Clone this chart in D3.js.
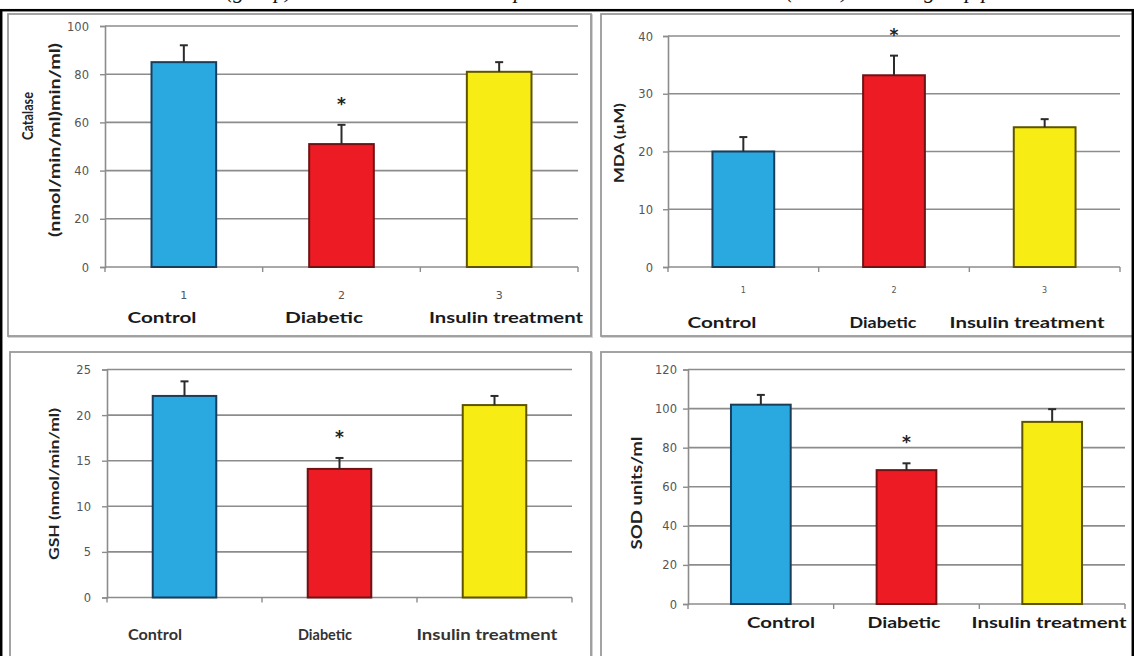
<!DOCTYPE html>
<html>
<head>
<meta charset="utf-8">
<script src="https://cdn.jsdelivr.net/npm/d3@7"></script>
<style>
  html, body { margin: 0; padding: 0; background: #fff; }
  svg { display: block; }
</style>
</head>
<body>
<svg id="fig" width="1134" height="656"></svg>
<script>
// Group names and their index numbers
const groups = ["Control", "Diabetic", "Insulin treatment"];
const groupNumbers = ["1", "2", "3"];
// Groups flagged as significantly different
const significant = [false, true, false];

// Catalase (nmol/min/ml)
const catalaseMean = [85, 51, 81];
const catalaseErr  = [7, 8, 4];
const catalaseTicks = [0, 20, 40, 60, 80, 100];

// MDA (µM)
const mdaMean = [20, 33.2, 24.2];
const mdaErr  = [2.5, 3.4, 1.4];
const mdaTicks = [0, 10, 20, 30, 40];

// GSH (nmol/min/ml)
const gshMean = [22.1, 14.1, 21.1];
const gshErr  = [1.6, 1.2, 1.0];
const gshTicks = [0, 5, 10, 15, 20, 25];

// SOD units/ml
const sodMean = [102, 68.5, 93.2];
const sodErr  = [5, 3.5, 6.5];
const sodTicks = [0, 20, 40, 60, 80, 100, 120];

const fills   = ["#29a9e0", "#ed1c24", "#f7ec13"];
const strokes = ["#1b3d5a", "#6e1214", "#5e5300"];
const labelFont = "Lato";

const svg = d3.select("#fig");
svg.append("rect").attr("width", 1134).attr("height", 656).attr("fill", "#fff");

// Caption line running off the top edge
const cap = svg.append("text")
  .attr("y", -2)
  .attr("font-family", "Liberation Serif")
  .attr("font-style", "italic")
  .attr("font-size", 22)
  .attr("fill", "#111");
cap.append("tspan").attr("x", 226).text("(group) were measured and");
cap.append("tspan").attr("x", 477).text("compared to the control");
cap.append("tspan").attr("x", 786).text("(n=10) in each/group p");

const panels = [
  {
    mean: catalaseMean, err: catalaseErr, ticks: catalaseTicks, max: 100,
    box: [8, 14, 591, 336],
    plot: { left: 105, right: 578, top: 26, bottom: 267 },
    tickX: 89, numbers: { y: 299, size: 11 },
    titles: [
      { text: "Catalase", x: 27, y: 116, w: 48, size: 16 },
      { text: "(nmol/min/ml)min/ml)", x: 55, y: 140, w: 194, size: 14.5 }
    ],
    labels: { y: 323, size: 16, weight: 700, color: "#1a1a1a",
              x: [162, 324, 506], w: [69, 78, 154] }
  },
  {
    mean: mdaMean, err: mdaErr, ticks: mdaTicks, max: 40,
    box: [601, 14, 1140, 336],
    plot: { left: 668, right: 1120, top: 36, bottom: 267 },
    tickX: 653, numbers: { y: 293, size: 8 },
    titles: [
      { text: "MDA (µM)", x: 619, y: 143, w: 80, size: 13.5 }
    ],
    labels: { y: 328, size: 16, weight: 700, color: "#1a1a1a",
              x: [722, 883, 1027], w: [69, 67, 155] }
  },
  {
    mean: gshMean, err: gshErr, ticks: gshTicks, max: 25,
    box: [10, 352, 591, 660],
    plot: { left: 107, right: 572, top: 369.5, bottom: 597.5 },
    tickX: 91, numbers: null,
    titles: [
      { text: "GSH (nmol/min/ml)", x: 55, y: 484, w: 152, size: 12.5 }
    ],
    labels: { y: 640, size: 14.5, weight: 700, color: "#333",
              x: [155, 325, 487], w: [54, 54, 141] }
  },
  {
    mean: sodMean, err: sodErr, ticks: sodTicks, max: 120,
    box: [601, 352, 1140, 660],
    plot: { left: 688, right: 1125, top: 369.5, bottom: 604 },
    tickX: 677, numbers: null,
    titles: [
      { text: "SOD units/ml", x: 637, y: 493, w: 113, size: 15.5 }
    ],
    labels: { y: 628, size: 16, weight: 700, color: "#1a1a1a",
              x: [781, 904, 1049], w: [68, 73, 155] }
  }
];

panels.forEach(p => {
  const g = svg.append("g");
  const [bx0, by0, bx1, by1] = p.box;

  // panel frame with a soft edge
  g.append("rect")
    .attr("x", bx0 + 1).attr("y", by0 + 1)
    .attr("width", bx1 - bx0).attr("height", by1 - by0)
    .attr("fill", "none").attr("stroke", "#d4d4d4").attr("stroke-width", 2);
  g.append("rect")
    .attr("x", bx0).attr("y", by0)
    .attr("width", bx1 - bx0).attr("height", by1 - by0)
    .attr("fill", "#fff").attr("stroke", "#9a9a9a").attr("stroke-width", 1.8);

  const x = d3.scaleBand().domain(groups)
    .range([p.plot.left, p.plot.right])
    .paddingInner(0.59).paddingOuter(0.295);
  const y = d3.scaleLinear().domain([0, p.max]).range([p.plot.bottom, p.plot.top]);

  // horizontal gridlines
  g.append("g").selectAll("line").data(p.ticks.filter(t => t > 0)).join("line")
    .attr("x1", p.plot.left).attr("x2", p.plot.right)
    .attr("y1", d => y(d)).attr("y2", d => y(d))
    .attr("stroke", "#8c8c8c").attr("stroke-width", 1.6);

  // value axis
  const yAxis = d3.axisLeft(y).tickValues(p.ticks).tickSize(5).tickPadding(0)
    .tickFormat(d3.format("d"));
  const ya = g.append("g").attr("transform", `translate(${p.plot.left},0)`).call(yAxis);
  ya.select(".domain").attr("stroke", "#8c8c8c").attr("stroke-width", 1.6);
  ya.selectAll(".tick line").attr("stroke", "#8c8c8c").attr("stroke-width", 1.4);
  ya.selectAll(".tick text")
    .attr("x", p.tickX - p.plot.left)
    .attr("font-family", "DejaVu Sans").attr("font-size", 11.5)
    .attr("fill", "#555").attr("dy", "0.35em");

  // category axis with boundary ticks
  g.append("line")
    .attr("x1", p.plot.left).attr("x2", p.plot.right)
    .attr("y1", p.plot.bottom).attr("y2", p.plot.bottom)
    .attr("stroke", "#8c8c8c").attr("stroke-width", 1.6);
  const step = x.step();
  g.append("g").selectAll("line").data(d3.range(groups.length + 1)).join("line")
    .attr("x1", i => p.plot.left + i * step).attr("x2", i => p.plot.left + i * step)
    .attr("y1", p.plot.bottom).attr("y2", p.plot.bottom + 5)
    .attr("stroke", "#8c8c8c").attr("stroke-width", 1.4);

  // bars
  groups.forEach((grp, i) => {
    const v = p.mean[i], e = p.err[i];
    const cx = x(grp) + x.bandwidth() / 2;
    g.append("rect")
      .attr("x", x(grp)).attr("y", y(v))
      .attr("width", x.bandwidth()).attr("height", y(0) - y(v))
      .attr("fill", fills[i]).attr("stroke", strokes[i]).attr("stroke-width", 2);
    // upper error bar
    g.append("line")
      .attr("x1", cx).attr("x2", cx).attr("y1", y(v)).attr("y2", y(v + e))
      .attr("stroke", "#2b2b2b").attr("stroke-width", 2);
    g.append("line")
      .attr("x1", cx - 4).attr("x2", cx + 4).attr("y1", y(v + e)).attr("y2", y(v + e))
      .attr("stroke", "#2b2b2b").attr("stroke-width", 2);
    if (significant[i]) {
      g.append("text")
        .attr("x", cx).attr("y", y(v + e) - 15)
        .attr("text-anchor", "middle")
        .attr("font-family", "DejaVu Sans").attr("font-weight", 700)
        .attr("font-size", 17).attr("fill", "#222")
        .text("*");
    }
    if (p.numbers) {
      g.append("text")
        .attr("x", cx).attr("y", p.numbers.y)
        .attr("text-anchor", "middle")
        .attr("font-family", "DejaVu Sans").attr("font-size", p.numbers.size)
        .attr("fill", "#555").text(groupNumbers[i]);
    }
    g.append("text")
      .attr("x", p.labels.x[i]).attr("y", p.labels.y)
      .attr("text-anchor", "middle")
      .attr("font-family", labelFont).attr("font-weight", p.labels.weight)
      .attr("font-size", p.labels.size).attr("fill", p.labels.color)
      .attr("textLength", p.labels.w[i]).attr("lengthAdjust", "spacingAndGlyphs")
      .text(grp);
  });

  // axis titles (rotated)
  p.titles.forEach(t => {
    g.append("text")
      .attr("transform", `translate(${t.x},${t.y}) rotate(-90)`)
      .attr("text-anchor", "middle").attr("dy", "0.35em")
      .attr("font-family", labelFont).attr("font-weight", 700)
      .attr("font-size", t.size).attr("fill", "#222")
      .attr("textLength", t.w).attr("lengthAdjust", "spacingAndGlyphs")
      .text(t.text);
  });
});

// Outer frame drawn over the panels
svg.append("rect")
  .attr("x", 1.2).attr("y", 10.2).attr("width", 1131.6).attr("height", 660)
  .attr("fill", "none").attr("stroke", "#000").attr("stroke-width", 2.5);
</script>
</body>
</html>
